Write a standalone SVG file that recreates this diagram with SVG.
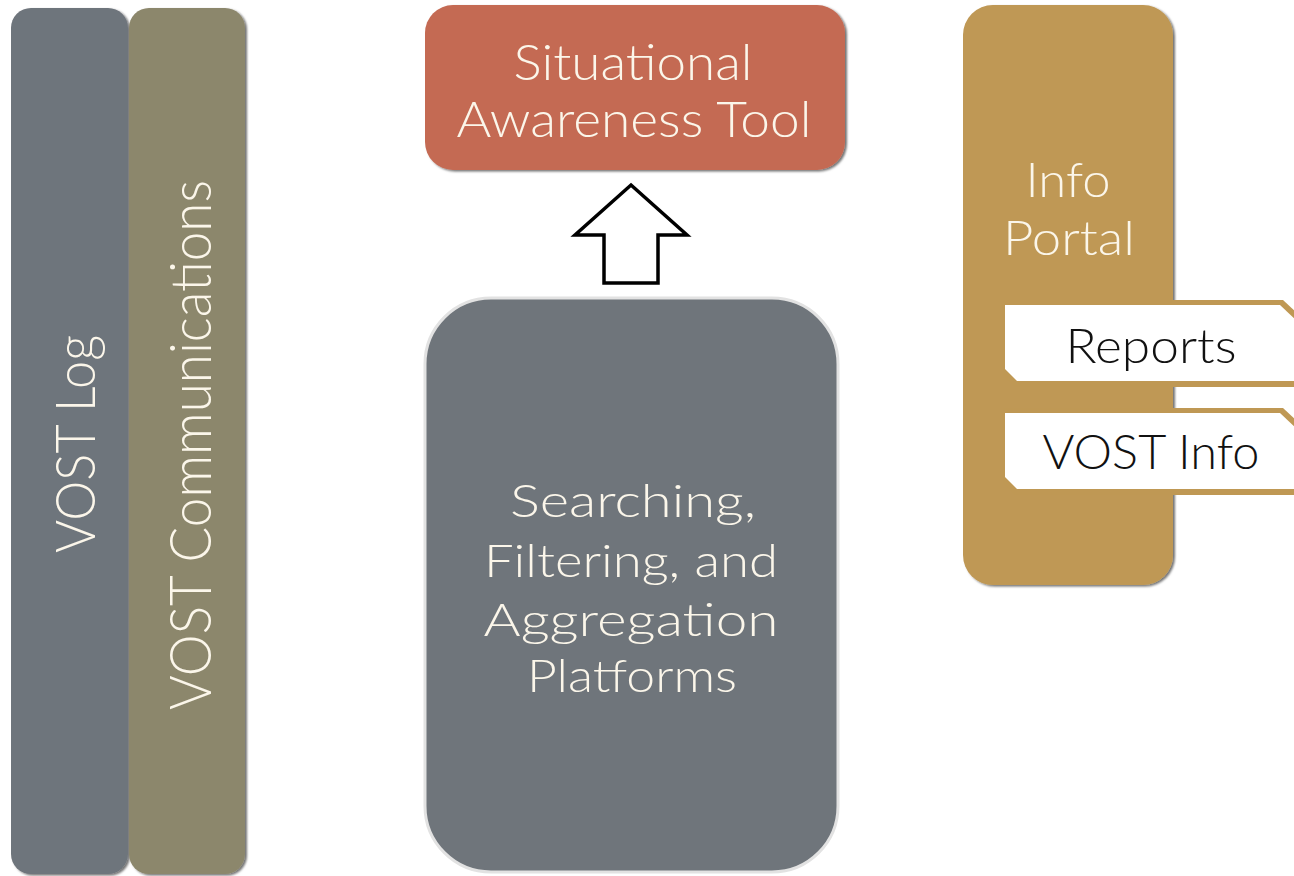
<svg xmlns="http://www.w3.org/2000/svg" width="1294" height="876" viewBox="0 0 1294 876">
<defs>
<filter id="sh" x="-10%" y="-10%" width="120%" height="120%">
<feDropShadow dx="2" dy="1.5" stdDeviation="1.2" flood-color="#000" flood-opacity="0.55"/>
</filter>
<style>
.lbl{font-family:Lato,"Liberation Sans",sans-serif;font-weight:300;fill:#fbf6ea;text-anchor:middle}
.dk{font-family:Lato,"Liberation Sans",sans-serif;font-weight:300;fill:#111;text-anchor:middle}
</style>
</defs>
<rect width="1294" height="876" fill="#fff"/>
<g id="vost-log">
<rect x="11" y="8" width="117" height="866" rx="20" fill="#6e747b" filter="url(#sh)"/>
<text class="lbl" transform="translate(95,444) rotate(-90)" font-size="56" textLength="218" lengthAdjust="spacingAndGlyphs">VOST Log</text>
</g>
<g id="vost-communications">
<rect x="129" y="8" width="116" height="866" rx="20" fill="#8c876c" filter="url(#sh)"/>
<text class="lbl" transform="translate(211,445) rotate(-90)" font-size="58" textLength="530" lengthAdjust="spacingAndGlyphs">VOST Communications</text>
</g>
<g id="situational-awareness-tool">
<rect x="425" y="5" width="420" height="165" rx="28" fill="#c46a53" filter="url(#sh)"/>
<text class="lbl" x="633" y="80" font-size="50" textLength="239" lengthAdjust="spacingAndGlyphs">Situational</text>
<text class="lbl" x="634" y="137" font-size="50" textLength="355" lengthAdjust="spacingAndGlyphs">Awareness Tool</text>
</g>
<g id="search-platforms">
<rect x="425" y="298" width="413" height="574" rx="66" fill="#6f757b" stroke="#e2e2e2" stroke-width="3"/>
<text class="lbl" x="633" y="517" font-size="45" textLength="246" lengthAdjust="spacingAndGlyphs">Searching,</text>
<text class="lbl" x="631" y="577" font-size="45" textLength="294" lengthAdjust="spacingAndGlyphs">Filtering, and</text>
<text class="lbl" x="631" y="636" font-size="45" textLength="295" lengthAdjust="spacingAndGlyphs">Aggregation</text>
<text class="lbl" x="632" y="692" font-size="45" textLength="210" lengthAdjust="spacingAndGlyphs">Platforms</text>
</g>
<g id="info-portal">
<rect x="963" y="5" width="210" height="580" rx="30" fill="#bf9854" filter="url(#sh)"/>
<text class="lbl" x="1068" y="197" font-size="48" textLength="85" lengthAdjust="spacingAndGlyphs">Info</text>
<text class="lbl" x="1069" y="255" font-size="48" textLength="132" lengthAdjust="spacingAndGlyphs">Portal</text>
</g>
<g id="reports">
<polygon points="1003,300 1283,300 1296,312 1296,387 1015,387 1003,375" fill="#bf9854"/>
<polygon points="1005,305 1280,305 1296,320 1296,381 1017,381 1005,369" fill="#fff"/>
<text class="dk" x="1151" y="363" font-size="47" textLength="171" lengthAdjust="spacingAndGlyphs">Reports</text>
</g>
<g id="vost-info">
<polygon points="1003,408 1283,408 1296,420 1296,495 1015,495 1003,483" fill="#bf9854"/>
<polygon points="1005,413 1280,413 1296,428 1296,489 1017,489 1005,477" fill="#fff"/>
<text class="dk" x="1151" y="469" font-size="47" textLength="217" lengthAdjust="spacingAndGlyphs">VOST Info</text>
</g>
<g id="connectors">
<polygon points="631,185 687,235 658,235 658,283 604,283 604,235 575,235" fill="#fff" stroke="#000" stroke-width="3.5" stroke-linejoin="miter"/>
</g>
</svg>
